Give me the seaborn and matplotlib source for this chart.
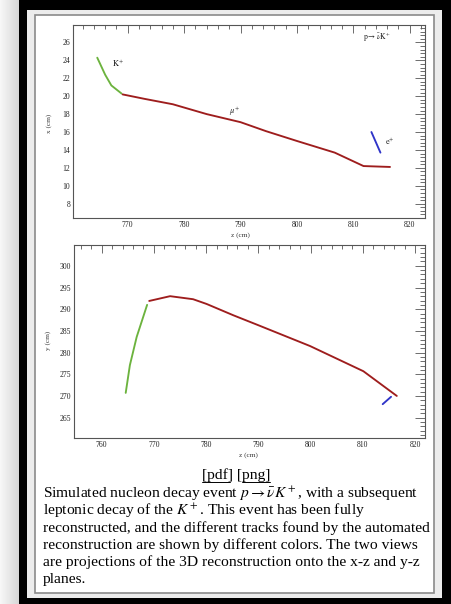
import numpy as np
import pandas as pd
import seaborn as sns
import matplotlib
matplotlib.use("Agg")
import matplotlib.pyplot as plt
from matplotlib.ticker import MultipleLocator, AutoMinorLocator
from matplotlib.patches import Rectangle
from matplotlib.lines import Line2D
from matplotlib.textpath import TextPath
from matplotlib.font_manager import FontProperties

# ---------------- data ----------------
tracks = ["K+", "mu+", "e+"]
track_colors = ["#6cb33e", "#9e1d1d", "#2f34c8"]

# x-z view
k_z_xz = [764.6, 766.0, 767.1, 768.9]
k_x_xz = [24.3, 22.4, 21.2, 20.3]
mu_z_xz = [769.1, 773.0, 778.0, 784.0, 790.0, 794.5, 800.0, 806.7, 811.8, 816.5]
mu_x_xz = [20.2, 19.7, 19.1, 18.0, 17.1, 16.1, 15.0, 13.7, 12.2, 12.1]
e_z_xz = [813.2, 814.8]
e_x_xz = [16.0, 13.7]

# y-z view
k_z_yz = [764.6, 765.4, 766.7, 768.7]
k_y_yz = [270.7, 277.1, 283.6, 291.0]
mu_z_yz = [769.1, 773.1, 777.5, 780.1, 785.2, 790.0, 799.9, 810.1, 816.5]
mu_y_yz = [291.9, 293.0, 292.3, 291.2, 288.6, 286.3, 281.5, 275.7, 270.0]
e_z_yz = [813.8, 815.4]
e_y_yz = [268.1, 269.8]

caption_links = "[pdf] [png]"
caption_lines = [
    r"Simulated nucleon decay event $p\rightarrow\bar{\nu}K^+$, with a subsequent",
    r"leptonic decay of the $K^+$. This event has been fully",
    r"reconstructed, and the different tracks found by the automated",
    r"reconstruction are shown by different colors. The two views",
    r"are projections of the 3D reconstruction onto the x-z and y-z",
    r"planes.",
]

# ---------------- build tables ----------------
def make_df(zs, vs, col):
    rows = []
    for name, z, v in zip(tracks, zs, vs):
        for i, (a, b) in enumerate(zip(z, v)):
            rows.append({"track": name, "order": i, "z": a, col: b})
    return pd.DataFrame(rows)

df_xz = make_df([k_z_xz, mu_z_xz, e_z_xz], [k_x_xz, mu_x_xz, e_x_xz], "x")
df_yz = make_df([k_z_yz, mu_z_yz, e_z_yz], [k_y_yz, mu_y_yz, e_y_yz], "y")
pal = dict(zip(tracks, track_colors))

# ---------------- figure ----------------
sns.set_theme(style="white")
plt.rcParams["font.family"] = ["Liberation Serif", "DejaVu Serif"]
plt.rcParams["mathtext.fontset"] = "stix"

W, H = 451, 604
fig = plt.figure(figsize=(W / 100, H / 100), dpi=100)
fig.patch.set_facecolor("black")

def frect(x0, y0, x1, y1, **kw):
    # pixel coords (top-left origin) -> figure fraction
    r = Rectangle((x0 / W, 1 - y1 / H), (x1 - x0) / W, (y1 - y0) / H,
                  transform=fig.transFigure, **kw)
    fig.patches.append(r)
    return r

# left gray strip with gradient
gax = fig.add_axes([0, 0, 19 / W, 1])
grad = np.linspace(0.97, 0.84, 50)[None, :]
gax.imshow(grad, cmap="gray", vmin=0, vmax=1, aspect="auto", extent=[0, 1, 0, 1])
gax.set_axis_off()

frect(27, 10, 442, 598, facecolor="#ececec", edgecolor="none", zorder=-2)
frect(35, 15, 434, 593, facecolor="white", edgecolor="#8a8a8a", linewidth=1.2, zorder=-1)

def style_axes(ax, ymaj):
    ax.set_facecolor("white")
    for s in ax.spines.values():
        s.set_color("#555555")
        s.set_linewidth(0.8)
        s.set_visible(True)
    ax.xaxis.set_major_locator(MultipleLocator(10))
    ax.xaxis.set_minor_locator(AutoMinorLocator(5))
    ax.yaxis.set_major_locator(MultipleLocator(ymaj))
    ax.yaxis.set_minor_locator(AutoMinorLocator(5))
    ax.tick_params(which="both", direction="in", top=True, right=True,
                   color="#555555", width=0.6, labelsize=5.5, labelcolor="#222222", pad=2)
    ax.tick_params(axis="x", which="major", length=5.5)
    ax.tick_params(axis="y", which="major", length=7)
    ax.tick_params(axis="x", which="minor", length=3)
    ax.tick_params(axis="y", which="minor", length=3.6)

# ---- x-z view ----
ax1 = fig.add_axes([73 / W, 1 - 218 / H, 352 / W, 193 / H])
sns.lineplot(data=df_xz, x="z", y="x", hue="track", palette=pal, sort=False,
             estimator=None, units="track", legend=False, linewidth=1.35, ax=ax1)
ax1.set_xlim(760.3, 822.7)
ax1.set_ylim(6.4, 27.95)
style_axes(ax1, 2)
ax1.set_xlabel("z (cm)", fontsize=5.2, color="#333333")
ax1.set_ylabel("x (cm)", fontsize=5.2, color="#333333")
ax1.xaxis.set_label_coords(0.475, -0.075)
ax1.yaxis.set_label_coords(-0.06, 0.49)
ax1.text(767.3, 23.7, r"$\mathrm{K}^{+}$", fontsize=6, color="#222222", ha="left", va="center")
ax1.text(789.0, 18.3, r"$\mu^{+}$", fontsize=6, color="#222222", ha="center", va="center")
ax1.text(815.6, 15.0, r"$\mathrm{e}^{+}$", fontsize=6, color="#222222", ha="left", va="center")
ax1.text(814.2, 26.6, r"$\mathrm{p}\rightarrow\bar{\nu}\mathrm{K}^{+}$", fontsize=5.5,
         color="#222222", ha="center", va="center")

# ---- y-z view ----
ax2 = fig.add_axes([74 / W, 1 - 438 / H, 351 / W, 193 / H])
sns.lineplot(data=df_yz, x="z", y="y", hue="track", palette=pal, sort=False,
             estimator=None, units="track", legend=False, linewidth=1.35, ax=ax2)
ax2.set_xlim(754.7, 821.9)
ax2.set_ylim(260.3, 304.8)
style_axes(ax2, 5)
ax2.set_xlabel("z (cm)", fontsize=5.2, color="#333333")
ax2.set_ylabel("y (cm)", fontsize=5.2, color="#333333")
ax2.xaxis.set_label_coords(0.496, -0.072)
ax2.yaxis.set_label_coords(-0.066, 0.508)

# ---------------- caption ----------------
CAP_FS = 11.15
t = fig.text(236 / W, 1 - 479.5 / H, caption_links, fontsize=CAP_FS, ha="center",
             va="baseline", color="black")
base0 = 497.7
for i, line in enumerate(caption_lines):
    fig.text(43 / W, 1 - (base0 + 17.1 * i) / H, line, fontsize=CAP_FS, ha="left",
             va="baseline", color="black")

# underline the two links
fig.canvas.draw()
r = fig.canvas.get_renderer()
bb = t.get_window_extent(renderer=r)
yline = (H - 481.5) / H
fp = FontProperties(family="Liberation Serif", size=CAP_FS)
w_pdf = TextPath((0, 0), "[pdf]", prop=fp).get_extents().width / 72 * 100
fig.lines.append(Line2D([bb.x0 / W, (bb.x0 + w_pdf) / W], [yline, yline],
                        transform=fig.transFigure, color="black", linewidth=0.7))
fig.lines.append(Line2D([(bb.x1 - w_pdf) / W, bb.x1 / W], [yline, yline],
                        transform=fig.transFigure, color="black", linewidth=0.7))

fig.savefig("out.png", dpi=100, facecolor=fig.get_facecolor())
